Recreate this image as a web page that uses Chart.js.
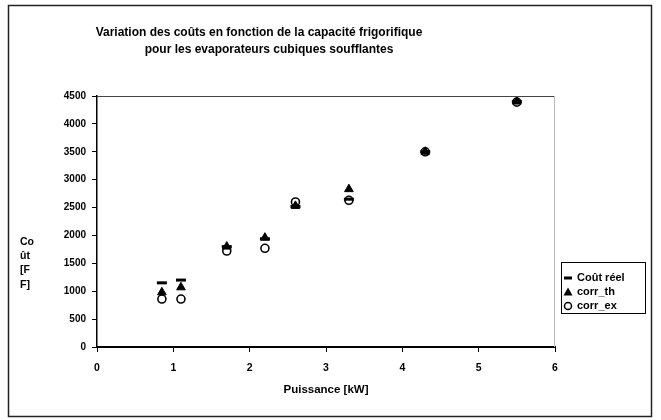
<!DOCTYPE html>
<html>
<head>
<meta charset="utf-8">
<script src="https://cdn.jsdelivr.net/npm/chart.js@4/dist/chart.umd.min.js"></script>
<style>
  html, body { margin: 0; padding: 0; background: #fff; }
  #wrap { width: 661px; height: 420px; position: relative; }
</style>
</head>
<body>
<div id="wrap"><canvas id="coutChart" width="661" height="420"></canvas></div>
<script>
'use strict';

/* ---- Data ---- */
const puissance = [0.85, 1.1, 1.7, 2.2, 2.6, 3.3, 4.3, 5.5];   // kW
const coutReel  = [1150, 1200, 1800, 1940, 2520, 2650, 3500, 4400];
const corrTh    = [980, 1070, 1800, 1960, 2530, 2830, 3500, 4400];
const corrEx    = [860, 860, 1720, 1770, 2600, 2630, 3500, 4390];

const xTicks = [0, 1, 2, 3, 4, 5, 6];
const yTicks = [0, 500, 1000, 1500, 2000, 2500, 3000, 3500, 4000, 4500];

const titleLines  = ['Variation des coûts en fonction de la capacité frigorifique',
                     'pour les evaporateurs cubiques soufflantes'];
const yTitleLines = ['Co', 'ût', '[F', 'F]'];
const xTitle      = 'Puissance [kW]';
const seriesNames = ['Coût réel', 'corr_th', 'corr_ex'];

const FONT = "'Liberation Sans', Arial, sans-serif";

const pts = ys => puissance.map((x, i) => ({ x, y: ys[i] }));

/* ---- Decorations: frame, titles, legend ---- */
const decorations = {
  id: 'decorations',
  beforeDraw(chart) {
    const ctx = chart.ctx;
    ctx.save();
    ctx.fillStyle = '#fff';
    ctx.fillRect(0, 0, chart.width, chart.height);
    ctx.strokeStyle = '#222';
    ctx.lineWidth = 1.5;
    ctx.strokeRect(8.5, 5.5, 643, 411);
    ctx.restore();
  },
  afterDraw(chart) {
    const ctx = chart.ctx;
    const a = chart.chartArea;
    ctx.save();

    // plot area top edge (dark) and faint right edge
    ctx.lineWidth = 1;
    ctx.strokeStyle = '#444';
    ctx.beginPath();
    ctx.moveTo(a.left, a.top + 0.5);
    ctx.lineTo(a.right, a.top + 0.5);
    ctx.stroke();
    ctx.strokeStyle = '#bbb';
    ctx.beginPath();
    ctx.moveTo(a.right - 0.5, a.top);
    ctx.lineTo(a.right - 0.5, a.bottom);
    ctx.stroke();

    ctx.fillStyle = '#000';
    ctx.textBaseline = 'middle';

    // chart title
    ctx.font = 'bold 12px ' + FONT;
    ctx.textAlign = 'center';
    ctx.fillText(titleLines[0], 259, 33);
    ctx.fillText(titleLines[1], 269, 50);

    // axis titles
    ctx.font = 'bold 11.5px ' + FONT;
    ctx.fillText(xTitle, (a.left + a.right) / 2, 390);
    ctx.font = 'bold 10.5px ' + FONT;
    ctx.textAlign = 'left';
    yTitleLines.forEach((t, i) => ctx.fillText(t, 20, 242 + i * 14.3));

    // legend
    const lx = 561, ly = 262;
    ctx.strokeStyle = '#000';
    ctx.lineWidth = 1;
    ctx.strokeRect(lx + 0.5, ly + 0.5, 84, 51);
    ctx.font = 'bold 11px ' + FONT;
    seriesNames.forEach((name, i) => {
      const y = ly + 16 + i * 14;
      const mx = lx + 7;
      if (i === 0) {
        ctx.lineWidth = 3;
        ctx.beginPath();
        ctx.moveTo(mx - 4, y);
        ctx.lineTo(mx + 4, y);
        ctx.stroke();
      } else if (i === 1) {
        ctx.beginPath();
        ctx.moveTo(mx, y - 4.5);
        ctx.lineTo(mx + 4.5, y + 3.5);
        ctx.lineTo(mx - 4.5, y + 3.5);
        ctx.closePath();
        ctx.fill();
      } else {
        ctx.lineWidth = 1.5;
        ctx.beginPath();
        ctx.arc(mx, y, 3.5, 0, Math.PI * 2);
        ctx.stroke();
      }
      ctx.fillText(name, lx + 16, y);
    });
    ctx.restore();
  }
};

/* ---- Chart ---- */
function initCoutChart() {
  const ctx = document.getElementById('coutChart');
  new Chart(ctx, {
    type: 'scatter',
    data: {
      datasets: [
        {
          label: seriesNames[0],
          data: pts(coutReel),
          pointStyle: 'line',
          pointRadius: 5,
          borderWidth: 3,
          borderColor: '#000',
          backgroundColor: '#000',
          order: 0,
        },
        {
          label: seriesNames[1],
          data: pts(corrTh),
          pointStyle: 'triangle',
          pointRadius: 5,
          borderWidth: 1,
          borderColor: '#000',
          backgroundColor: '#000',
          order: 1,
        },
        {
          label: seriesNames[2],
          data: pts(corrEx),
          pointStyle: 'circle',
          pointRadius: 4,
          borderWidth: 1.6,
          borderColor: '#000',
          backgroundColor: 'rgba(0,0,0,0)',
          order: 2,
        }
      ]
    },
    options: {
      responsive: false,
      animation: false,
      devicePixelRatio: 1,
      layout: { padding: { left: 0, right: 106, top: 96, bottom: 0 } },
      plugins: {
        legend: { display: false },
        title: { display: false },
        tooltip: { enabled: false }
      },
      scales: {
        x: {
          type: 'linear',
          min: 0, max: 6,
          afterBuildTicks: s => { s.ticks = xTicks.map(v => ({ value: v })); },
          afterFit: s => { s.height = 73; },
          grid: { drawOnChartArea: false, drawTicks: true, tickLength: 5, color: '#000', lineWidth: 1 },
          border: { display: true, color: '#000', width: 2 },
          ticks: { color: '#000', padding: 10, font: { family: FONT, size: 10.5, weight: 'bold' },
                   callback: v => String(v) }
        },
        y: {
          min: 0, max: 4500,
          afterBuildTicks: s => { s.ticks = yTicks.map(v => ({ value: v })); },
          afterFit: s => { s.width = 97; },
          grid: { drawOnChartArea: false, drawTicks: true, tickLength: 5, color: '#000', lineWidth: 1 },
          border: { display: true, color: '#000', width: 1.5 },
          ticks: { color: '#000', padding: 6, font: { family: FONT, size: 10, weight: 'bold' },
                   callback: v => String(v) }
        }
      }
    },
    plugins: [decorations]
  });
}

initCoutChart();
</script>
</body>
</html>
